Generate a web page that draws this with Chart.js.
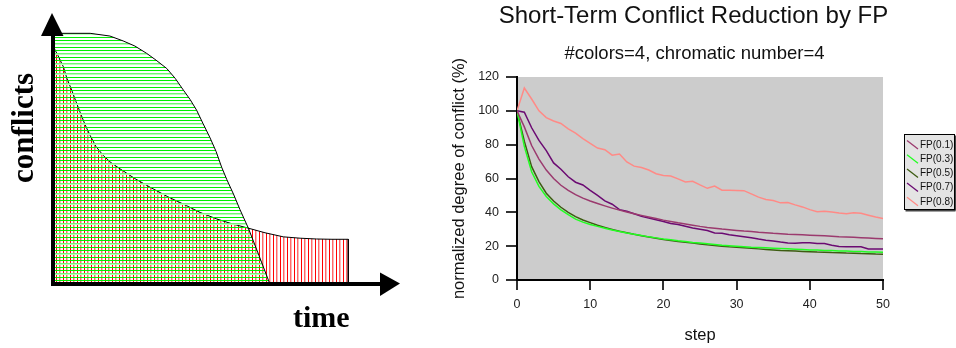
<!DOCTYPE html>
<html>
<head>
<meta charset="utf-8">
<script src="https://cdn.jsdelivr.net/npm/chart.js@4.4.1/dist/chart.umd.min.js"></script>
<style>
  html, body { margin: 0; padding: 0; background: #ffffff; }
  #wrap { position: relative; width: 956px; height: 348px; overflow: hidden; }
  #left { position: absolute; left: 0; top: 0; }
  #right { position: absolute; left: 420px; top: 0; }
</style>
</head>
<body>
<div id="wrap">
  <canvas id="left" width="420" height="348"></canvas>
  <canvas id="right" width="536" height="348"></canvas>
</div>
<script>
// ---------- Left schematic diagram data (time vs conflicts, arbitrary units 0-100) ----------
const fastTime      = [0, 10.7, 16.4, 20.2, 23.6, 27.0, 29.7, 32.8, 35.2, 37.6, 39.5, 41.4, 43.2, 45.2, 47.0, 48.6, 50.1, 52.0, 53.9, 56.3, 59.4, 62.5];
const fastConflicts = [92.5, 92.5, 91.5, 89.7, 87.8, 85.1, 82.6, 79.5, 75.9, 71.5, 68.1, 64.1, 59.3, 54.1, 48.9, 43.1, 38.5, 33.2, 27.4, 20.6, 10.4, 0];
const slowTime      = [0, 1.4, 3.0, 4.0, 5.4, 6.6, 7.8, 9.2, 10.7, 12.4, 14.5, 16.7, 19.3, 23.6, 28.0, 33.1, 38.5, 42.4, 47.2, 51.6, 56.3, 61.1, 66.4, 71.2, 76.0, 80.4, 85.1, 85.1];
const slowConflicts = [87.8, 84.4, 80.1, 75.9, 71.5, 67.4, 63.4, 58.9, 54.8, 50.7, 47.4, 44.8, 42.5, 38.9, 35.7, 32.2, 28.9, 26.4, 24.0, 22.2, 20.6, 18.9, 17.4, 16.9, 16.6, 16.5, 16.5, 0];
const diagramXLabel = 'time';
const diagramYLabel = 'conflicts';

// ---------- Right chart data ----------
const steps = Array.from({length: 51}, (_, i) => i);
const xTicks = [0, 10, 20, 30, 40, 50];
const yTicks = [0, 20, 40, 60, 80, 100, 120];
const seriesNames = ['FP(0.1)', 'FP(0.3)', 'FP(0.5)', 'FP(0.7)', 'FP(0.8)'];
const fp01 = [100, 90.5, 79.5, 71.5, 65, 60, 56, 53, 50.5, 48.4, 46.7, 45.2, 43.8, 42.5, 41.3, 40.2, 39.2, 38.2, 37.2, 36.3, 35.4, 34.6, 33.8, 33.1, 32.4, 31.7, 31.1, 30.6, 30.1, 29.7, 29.3, 28.9, 28.6, 28.2, 27.9, 27.6, 27.4, 27.1, 26.9, 26.7, 26.5, 26.3, 26.1, 25.9, 25.6, 25.4, 25.2, 25, 24.8, 24.6, 24.4];
const fp03 = [100, 79, 64, 55.3, 49.4, 45, 41.5, 38.6, 36, 34.2, 32.8, 31.7, 30.6, 29.6, 28.7, 27.8, 27, 26.3, 25.5, 24.9, 24.3, 23.8, 23.2, 22.7, 22.2, 21.8, 21.4, 21, 20.6, 20.3, 20, 19.7, 19.4, 19.2, 19, 18.8, 18.6, 18.4, 18.2, 18, 17.8, 17.7, 17.5, 17.4, 17.2, 17.1, 16.9, 16.8, 16.6, 16.5, 16.4];
const fp05 = [100, 82, 67, 58.2, 51.3, 46.7, 43, 40, 37.5, 35.5, 33.9, 32.4, 31.1, 29.9, 28.8, 27.9, 27, 26.2, 25.4, 24.7, 24, 23.4, 22.8, 22.3, 21.8, 21.3, 20.8, 20.4, 20, 19.6, 19.3, 19, 18.7, 18.4, 18.1, 17.8, 17.5, 17.3, 17.1, 16.9, 16.7, 16.5, 16.4, 16.2, 16.1, 15.9, 15.8, 15.6, 15.5, 15.3, 15.2];
const fp07 = [100, 99.2, 90, 82.5, 76.5, 69.2, 65.5, 61, 57.8, 56.2, 53, 50, 46.8, 44.8, 41.6, 40.6, 39.2, 37.6, 36.6, 35.6, 34.6, 33.4, 32.8, 31.8, 30.8, 30, 29.2, 27.8, 27.6, 26.8, 26.2, 25.6, 25, 24.2, 23.5, 23, 22.4, 21.9, 21.7, 22, 22, 21.6, 21.6, 20.5, 19.8, 19.6, 19.6, 19.7, 18.3, 18.3, 18.3];
const fp08 = [100, 113.5, 107, 100, 96, 94, 92.5, 89.3, 86.8, 83.6, 80.7, 78, 77, 73.8, 74.5, 69.8, 67.3, 66.5, 65, 62.8, 61.8, 61.5, 59.8, 58, 58.4, 56.2, 54.2, 55.5, 53.1, 53, 52.9, 52.8, 50.9, 49, 47.6, 47, 45.6, 45.8, 44.4, 43.2, 41.6, 40.4, 40.6, 40.2, 39.6, 39.2, 39.8, 39.5, 38.3, 37.2, 36.4];
const seriesColors = ['#9b3a6e', '#22ff22', '#3d5c12', '#6b0a72', '#ff8a86'];
const mainTitle = 'Short-Term Conflict Reduction by FP';
const subTitle = '#colors=4, chromatic number=4';
const xTitle = 'step';
const yTitle = 'normalized degree of conflict (%)';

Chart.defaults.font.family = "'Liberation Sans', Arial, sans-serif";

// ---------- hatch patterns ----------
function makePattern(kind) {
  const c = document.createElement('canvas');
  const g = c.getContext('2d');
  if (kind === 'h') {
    c.width = 4; c.height = 10;
    g.fillStyle = '#00f000'; g.fillRect(0, 0, 4, 1);
    g.fillStyle = '#70f870'; g.fillRect(0, 3, 4, 1);
    g.fillStyle = '#b8ffb8'; g.fillRect(0, 4, 4, 1);
    g.fillStyle = '#00f000'; g.fillRect(0, 7, 4, 1);
  } else {
    c.width = 7; c.height = 4;
    g.fillStyle = '#ff0000'; g.fillRect(0, 0, 1, 4);
    g.fillStyle = '#ff6a6a'; g.fillRect(3, 0, 1, 4);
    g.fillStyle = '#ffb8b8'; g.fillRect(4, 0, 1, 4);
  }
  return g.createPattern(c, 'repeat');
}
const leftCanvas = document.getElementById('left');
const lctx = leftCanvas.getContext('2d');
const greenHatch = makePattern('h');
const redHatch = makePattern('v');

const arrowsPlugin = {
  id: 'arrows',
  afterDraw(chart) {
    const {ctx, chartArea: a} = chart;
    ctx.save();
    ctx.fillStyle = '#000';
    // axis shafts
    ctx.fillRect(a.left - 2, a.top + 20, 4, a.bottom - a.top - 18);
    ctx.fillRect(a.left - 2, a.bottom - 2, a.right - a.left - 18, 4);
    // arrow heads
    ctx.beginPath();
    ctx.moveTo(a.left - 1, a.top);
    ctx.lineTo(a.left - 12, a.top + 23);
    ctx.lineTo(a.left + 10.5, a.top + 23);
    ctx.closePath(); ctx.fill();
    ctx.beginPath();
    ctx.moveTo(a.right, a.bottom - 0.5);
    ctx.lineTo(a.right - 20, a.bottom - 11.5);
    ctx.lineTo(a.right - 20, a.bottom + 12);
    ctx.closePath(); ctx.fill();
    // labels
    ctx.fillStyle = '#000';
    ctx.font = "bold 30px 'Liberation Serif', 'Times New Roman', serif";
    ctx.textAlign = 'left';
    ctx.textBaseline = 'alphabetic';
    ctx.fillText(diagramXLabel, 293, 327);
    ctx.save();
    ctx.translate(33, 128);
    ctx.rotate(-Math.PI / 2);
    ctx.font = "bold 31px 'Liberation Serif', 'Times New Roman', serif";
    ctx.textAlign = 'center';
    ctx.fillText(diagramYLabel, 0, 0);
    ctx.restore();
    ctx.restore();
  }
};

new Chart(lctx, {
  type: 'line',
  data: {
    datasets: [
      { label: 'fast', data: fastTime.map((t, i) => ({x: t, y: fastConflicts[i]})),
        borderColor: '#000', borderWidth: 1, backgroundColor: greenHatch, fill: 'origin',
        pointRadius: 0, tension: 0 },
      { label: 'slow', data: slowTime.map((t, i) => ({x: t, y: slowConflicts[i]})),
        borderColor: '#000', borderWidth: 1, backgroundColor: redHatch, fill: 'origin',
        pointRadius: 0, tension: 0 }
    ]
  },
  options: {
    responsive: false, animation: false,
    layout: { padding: { left: 53, right: 20, top: 13, bottom: 64 } },
    scales: {
      x: { type: 'linear', min: 0, max: 100, display: false },
      y: { type: 'linear', min: 0, max: 100, display: false }
    },
    plugins: { legend: { display: false }, tooltip: { enabled: false } }
  },
  plugins: [arrowsPlugin]
});

// ---------- right chart ----------
const decorPlugin = {
  id: 'decor',
  beforeDraw(chart) {
    const {ctx, chartArea: a} = chart;
    ctx.save();
    ctx.fillStyle = '#cccccc';
    ctx.fillRect(a.left, a.top, a.right - a.left, a.bottom - a.top);
    ctx.restore();
  },
  afterDraw(chart) {
    const {ctx} = chart;
    ctx.save();
    ctx.fillStyle = '#111';
    ctx.textAlign = 'center';
    ctx.textBaseline = 'alphabetic';
    ctx.font = "24px 'Liberation Sans', Arial, sans-serif";
    ctx.fillText(mainTitle, 273.5, 23);
    ctx.font = "18.5px 'Liberation Sans', Arial, sans-serif";
    ctx.fillText(subTitle, 274.5, 58.5);
    // legend
    const bx = 484.5, by = 134.5, bw = 50, bh = 75;
    ctx.fillStyle = '#e4e4e4';
    ctx.fillRect(bx, by, bw, bh);
    ctx.strokeStyle = '#000';
    ctx.lineWidth = 1;
    ctx.strokeRect(bx, by, bw, bh);
    ctx.fillStyle = '#444';
    ctx.fillRect(bx + 1, by + bh + 0.5, bw, 1.5);
    ctx.fillRect(bx + bw + 0.5, by + 1, 1.5, bh);
    ctx.font = "10px 'Liberation Sans', Arial, sans-serif";
    ctx.textAlign = 'left';
    ctx.textBaseline = 'middle';
    chart.data.datasets.forEach((ds, i) => {
      const cy = 144.5 + i * 14.2;
      ctx.strokeStyle = ds.borderColor;
      ctx.lineWidth = 1.3;
      ctx.beginPath();
      ctx.moveTo(487, cy - 4);
      ctx.lineTo(498, cy + 4.5);
      ctx.stroke();
      ctx.fillStyle = '#111';
      ctx.fillText(ds.label, 500, cy + 0.5);
    });
    ctx.restore();
  }
};

const seriesData = [fp01, fp03, fp05, fp07, fp08];
new Chart(document.getElementById('right').getContext('2d'), {
  type: 'line',
  data: {
    datasets: seriesNames.map((name, k) => ({
      label: name,
      data: steps.map((s, i) => ({x: s, y: seriesData[k][i]})),
      borderColor: seriesColors[k], backgroundColor: seriesColors[k],
      borderWidth: 1.5, pointRadius: 0, tension: 0, fill: false
    }))
  },
  options: {
    responsive: false, animation: false,
    layout: { padding: { left: 0, right: 73, top: 77, bottom: 0 } },
    scales: {
      x: {
        type: 'linear', min: 0, max: 50,
        afterBuildTicks: (s) => { s.ticks = xTicks.map(v => ({value: v})); },
        afterFit: (s) => { s.height = 68; },
        grid: { drawOnChartArea: false, drawTicks: true, tickLength: 10, color: '#333', lineWidth: 2 },
        border: { display: true, color: '#000', width: 2 },
        ticks: { color: '#222', font: { size: 12.5 }, padding: 7, maxRotation: 0 },
        title: { display: true, text: xTitle, color: '#111', font: { size: 16.5 }, padding: { top: 0, bottom: 3 } }
      },
      y: {
        type: 'linear', min: 0, max: 120,
        afterBuildTicks: (s) => { s.ticks = yTicks.map(v => ({value: v})); },
        afterFit: (s) => { s.width = 97; },
        grid: { drawOnChartArea: false, drawTicks: true, tickLength: 11, color: '#333', lineWidth: 2 },
        border: { display: true, color: '#000', width: 2 },
        ticks: { color: '#222', font: { size: 12.5 }, padding: 7 },
        title: { display: true, text: yTitle, color: '#111', font: { size: 16.5 }, padding: { top: 30, bottom: 0 } }
      }
    },
    plugins: { legend: { display: false }, tooltip: { enabled: false } }
  },
  plugins: [decorPlugin]
});
</script>
</body>
</html>
